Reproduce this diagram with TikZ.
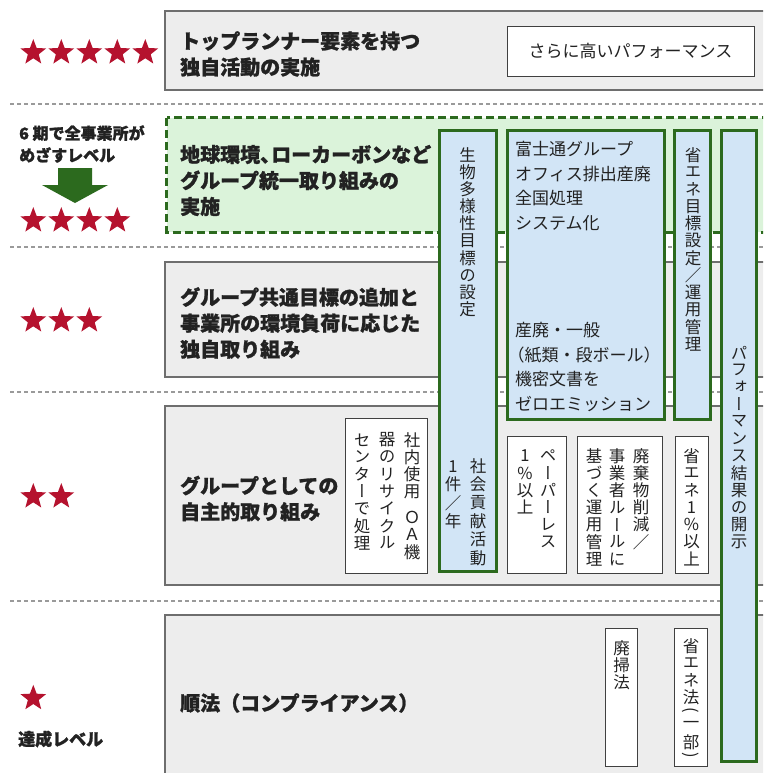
\documentclass[tikz,border=0pt]{standalone}
\usepackage{fontspec}
\setmainfont{Noto Sans CJK JP}[BoldFeatures={FakeBold=1.2}]
\newfontfamily\vjp{Noto Sans CJK JP}[RawFeature=+vert]
\newfontfamily\hjp{Noto Sans CJK JP}
\usepackage{graphicx}
\definecolor{boxgray}{HTML}{EDEDED}
\definecolor{boxline}{HTML}{6E6E6E}
\definecolor{lgreen}{HTML}{DBF3DA}
\definecolor{dgreen}{HTML}{2C6A1E}
\definecolor{lblue}{HTML}{D2E5F6}
\definecolor{starred}{HTML}{B5122E}
\definecolor{dotgray}{HTML}{9A9A9A}
\definecolor{txt}{HTML}{222222}
\makeatletter
\def\vgap{}
\def\vt@gap{\vgap}
\newif\ifvtsmall
\def\vsm{\global\vtsmalltrue}
\newcommand\vlp{\vsm\rotatebox[origin=c]{-90}{\hjp (}}
\newcommand\vrp{\vsm\rotatebox[origin=c]{-90}{\hjp )}}
\newlength\vtpitch
\newlength\vtcell
\newcommand\vtext[2][17.2pt]{%
  \vtpitch=#1\relax
  \vbox{\offinterlineskip\@tfor\vt@c:=#2\do{%
    \ifx\vt@c\vt@gap\vskip 9pt\else
    \global\vtsmallfalse
    \setbox0\hbox{\vjp\vt@c}%
    \ifvtsmall\vtcell=0.62\vtpitch\else\vtcell=\vtpitch\fi
    \hbox to 1em{\hss\vbox to \vtcell{\vss\box0\vss}\hss}\fi}}}
\makeatother
\tikzset{
  graybox/.style={fill=boxgray,draw=boxline,line width=1.2pt},
  whitebox/.style={fill=white,draw=black!75,line width=0.9pt},
  bluecol/.style={fill=lblue,draw=dgreen,line width=3pt},
  sepline/.style={draw=dotgray,line width=1.5pt,dash pattern=on 4pt off 3pt},
  lvl/.style={anchor=west,inner sep=0pt,align=left,text=txt,font=\fontsize{20}{26}\selectfont\bfseries},
  side/.style={anchor=west,inner sep=0pt,align=left,text=txt,font=\fontsize{16}{22}\selectfont\bfseries},
  body/.style={anchor=west,inner sep=0pt,align=left,text=txt,font=\fontsize{17}{24.4}\selectfont},
  vt/.style={anchor=north,inner sep=0pt,text=txt,font=\fontsize{16.5}{17}\selectfont},
  rstar/.pic={\fill[starred] (-90:13.5) -- (-54:5.7) -- (-18:13.5) -- (18:5.7) -- (54:13.5) -- (90:5.7) -- (126:13.5) -- (162:5.7) -- (198:13.5) -- (234:5.7) -- cycle;}
}
\begin{document}
\begin{tikzpicture}[x=1pt,y=-1pt]
\useasboundingbox (0,0) rectangle (763,773);
\clip (0,0) rectangle (763,773);
\fill[white] (0,0) rectangle (763,773);
% separators
\draw[sepline] (10,104) -- (763,104);
\draw[sepline] (10,247) -- (763,247);
\draw[sepline] (10,392) -- (763,392);
\draw[sepline] (10,601) -- (763,601);
% rows
\draw[graybox] (165,11) rectangle (775,90);
\draw[fill=lgreen,draw=dgreen,line width=3pt,dash pattern=on 8pt off 4pt] (166.5,118) rectangle (780,232);
\draw[graybox] (165,262) rectangle (775,377);
\draw[graybox] (165,406) rectangle (775,585);
\draw[graybox] (165,615) rectangle (775,790);
% white boxes
\node[whitebox,minimum width=247pt,minimum height=50pt,inner sep=0pt,font=\fontsize{17}{20}\selectfont,text=txt] (perfhi) at (630.5,51) {さらに高いパフォーマンス};
\draw[whitebox] (345,418) rectangle (427,573);
\draw[whitebox] (507,436) rectangle (566,573);
\draw[whitebox] (577,436) rectangle (662,573);
\draw[whitebox] (675,436) rectangle (708,573);
\draw[whitebox] (605,628) rectangle (637.5,766);
\draw[whitebox] (674.5,628) rectangle (707.5,766);
% blue columns
\draw[bluecol] (439.5,130.5) rectangle (496,571.5);
\draw[bluecol] (507.5,130.5) rectangle (664.5,419.5);
\draw[bluecol] (674.5,130.5) rectangle (710,419.5);
\draw[bluecol] (721.5,130.5) rectangle (756,761.5);
% stars
\foreach \i in {0,...,4} \pic at ({33.3+28*\i},52.6) {rstar};
\foreach \i in {0,...,3} \pic at ({33.3+28*\i},220.6) {rstar};
\foreach \i in {0,...,2} \pic at ({33.3+28*\i},320.6) {rstar};
\foreach \i in {0,...,1} \pic at ({33.3+28*\i},496.6) {rstar};
\pic at (33.3,698.3) {rstar};
% arrow
\fill[dgreen] (58,168) -- (92,168) -- (92,185) -- (108,185) -- (75,203) -- (42,185) -- (58,185) -- cycle;
% side texts
\node[side] (goal) at (19,144) {6 期で全事業所が\\めざすレベル};
\node[side,font=\fontsize{17}{22}\selectfont\bfseries] (ach) at (18,739) {達成レベル};
% level texts
\node[lvl] (l5) at (180,54) {トップランナー要素を持つ\\独自活動の実施};
\node[lvl] (l4) at (180,180.5) {地球環境、\hspace{-0.45em}ローカーボンなど\\グループ統一取り組みの\\実施};
\node[lvl] (l3) at (180,323) {グループ共通目標の追加と\\事業所の環境負荷に応じた\\独自取り組み};
\node[lvl] (l2) at (180,498.5) {グループとしての\\自主的取り組み};
\node[lvl] (l1) at (180,703) {順法（コンプライアンス）};
% column 2 texts
\node[body] (fj) at (515,186) {富士通グループ\\オフィス排出産廃\\全国処理\\システム化};
\node[body] (zero) at (515,367) {産廃・一般\\\hspace*{-0.45em}（紙類・段ボール）\\機密文書を\\ゼロエミッション};
% vertical texts
\node[vt] (bio) at (467.5,146) {\vtext{生物多様性目標の設定}};
\node[vt] (soc) at (478,457) {\vtext[18.3pt]{社会貢献活動}};
\node[vt] (one) at (453,457) {\vtext[18.3pt]{1件／年}};
\node[vt] (ene) at (693,146) {\vtext{省エネ目標設定／運用管理}};
\node[vt] (disc) at (739,344) {\vtext{パフォーマンス結果の開示}};
\node[vt] (oa1) at (412,431) {\vtext{社内使用\vgap ＯＡ機}};
\node[vt] (oa2) at (387,431) {\vtext{器のリサイクル}};
\node[vt] (oa3) at (362,431) {\vtext{センターで処理}};
\node[vt] (pl1) at (548,447) {\vtext{ペーパーレス}};
\node[vt] (pl2) at (525,447) {\vtext{1\%以上}};
\node[vt] (ws1) at (641,447) {\vtext{廃棄物削減／}};
\node[vt] (ws2) at (617,447) {\vtext{事業者ルールに}};
\node[vt] (ws3) at (594,447) {\vtext{基づく運用管理}};
\node[vt] (en1) at (691.5,447) {\vtext{省エネ1\%以上}};
\node[vt] (law1) at (621.5,639) {\vtext{廃掃法}};
\node[vt] (law2) at (691,637) {\vtext{省エネ法\vlp 一部\vrp}};
\end{tikzpicture}
\end{document}
